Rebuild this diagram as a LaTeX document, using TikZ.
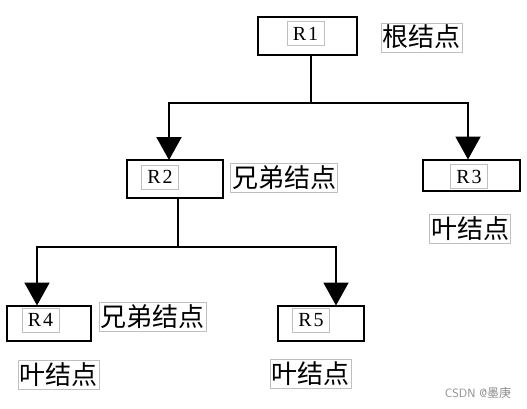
\documentclass[tikz,border=0pt]{standalone}
\usepackage{fontspec}
\setmainfont{Liberation Serif}
\newfontfamily\cjk{Noto Sans CJK SC}
\usetikzlibrary{arrows.meta}
\begin{document}
\begin{tikzpicture}[x=1pt,y=-1pt,
  nodebox/.style={draw=black,line width=2pt,inner sep=0pt,outer sep=0pt},
  rlabel/.style={draw=black!25,line width=0.6pt,minimum width=37pt,minimum height=24pt,inner sep=0pt,font=\fontsize{20}{20}\selectfont},
  clabel/.style={draw=black!25,line width=0.6pt,inner sep=1.5pt,text height=22.5pt,text depth=3.5pt,font=\cjk\fontsize{26}{26}\selectfont},
  conn/.style={line width=2pt,line cap=rect},
  arr/.style={line width=2pt,-{Triangle[width=25pt,length=23pt]}}
]
\useasboundingbox (0,0) rectangle (527,409);
% boxes
\node[nodebox,minimum width=99pt,minimum height=38pt] (R1) at (307.5,36) {};
\node[nodebox,minimum width=96pt,minimum height=38pt] (R2) at (175,179) {};
\node[nodebox,minimum width=97pt,minimum height=31pt] (R3) at (471.5,175) {};
\node[nodebox,minimum width=84pt,minimum height=35pt] (R4) at (49,323) {};
\node[nodebox,minimum width=86pt,minimum height=35pt] (R5) at (321,323) {};
% labels inside
\node[rlabel] (R1t) at (305.5,33.5) {R\hspace{2pt}1};
\node[rlabel] (R2t) at (160,177) {R\hspace{2pt}2};
\node[rlabel] (R3t) at (469,176.5) {R\hspace{2pt}3};
\node[rlabel] (R4t) at (40.5,320) {R\hspace{2pt}4};
\node[rlabel] (R5t) at (311,320.5) {R\hspace{2pt}5};
% chinese labels
\node[clabel] (gen) at (421.5,37.5) {根结点};
\node[clabel] (xd1) at (284,178) {兄弟结点};
\node[clabel] (ye3) at (470,228.5) {叶结点};
\node[clabel] (xd2) at (152.5,317) {兄弟结点};
\node[clabel] (ye4) at (58.5,375) {叶结点};
\node[clabel] (ye5) at (310.5,373.5) {叶结点};
\node[text=black!45,font=\sffamily\fontsize{12}{12}\selectfont,inner sep=0pt] (wm) at (478,393) {CSDN @{\cjk 墨庚}};
% connectors
\coordinate (j1) at (311,103);
\coordinate (h2) at (169,103);
\coordinate (h3) at (468,103);
\coordinate (j2) at (178,247);
\coordinate (h4) at (37,247);
\coordinate (h5) at (336,247);
\draw[conn] (R1.south -| j1) -- (j1);
\draw[conn] (h2) -- (h3);
\draw[arr] (h2) -- (h2 |- R2.north);
\draw[arr] (h3) -- (h3 |- R3.north);
\draw[conn] (R2.south -| j2) -- (j2);
\draw[conn] (h4) -- (h5);
\draw[arr] (h4) -- (h4 |- R4.north);
\draw[arr] (h5) -- (h5 |- R5.north);
\end{tikzpicture}
\end{document}
